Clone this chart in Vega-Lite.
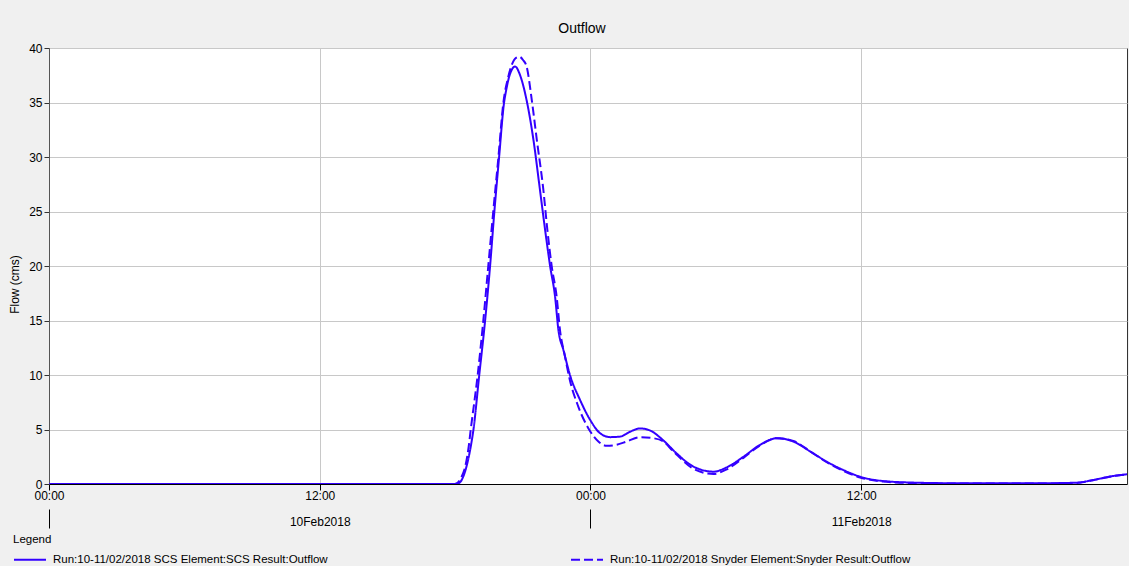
{
  "$schema": "https://vega.github.io/schema/vega-lite/v6.json",
  "width": 1078,
  "height": 436,
  "autosize": {"type": "none"},
  "padding": {"left": 49, "top": 48, "right": 2, "bottom": 82},
  "background": "#f0f0f0",
  "title": {"text": "Outflow", "fontSize": 14, "fontWeight": "normal", "font": "Liberation Sans", "color": "#000000", "offset": 6, "dx": -6},
  "config": {"view": {"fill": "white", "stroke": "#333333", "strokeWidth": 1}, "font": "Liberation Sans"},
  "data": {"values": [
    {"series":"Run:10-11/02/2018 SCS Element:SCS Result:Outflow","hours":0,"flow":0},
    {"series":"Run:10-11/02/2018 SCS Element:SCS Result:Outflow","hours":6,"flow":0},
    {"series":"Run:10-11/02/2018 SCS Element:SCS Result:Outflow","hours":12,"flow":0},
    {"series":"Run:10-11/02/2018 SCS Element:SCS Result:Outflow","hours":17.9,"flow":0},
    {"series":"Run:10-11/02/2018 SCS Element:SCS Result:Outflow","hours":18.14,"flow":0.05},
    {"series":"Run:10-11/02/2018 SCS Element:SCS Result:Outflow","hours":18.36,"flow":0.67},
    {"series":"Run:10-11/02/2018 SCS Element:SCS Result:Outflow","hours":18.54,"flow":1.9},
    {"series":"Run:10-11/02/2018 SCS Element:SCS Result:Outflow","hours":18.69,"flow":3.4},
    {"series":"Run:10-11/02/2018 SCS Element:SCS Result:Outflow","hours":18.81,"flow":4.95},
    {"series":"Run:10-11/02/2018 SCS Element:SCS Result:Outflow","hours":19.07,"flow":10},
    {"series":"Run:10-11/02/2018 SCS Element:SCS Result:Outflow","hours":19.33,"flow":15},
    {"series":"Run:10-11/02/2018 SCS Element:SCS Result:Outflow","hours":19.55,"flow":20},
    {"series":"Run:10-11/02/2018 SCS Element:SCS Result:Outflow","hours":19.74,"flow":25},
    {"series":"Run:10-11/02/2018 SCS Element:SCS Result:Outflow","hours":19.95,"flow":30},
    {"series":"Run:10-11/02/2018 SCS Element:SCS Result:Outflow","hours":20.17,"flow":35},
    {"series":"Run:10-11/02/2018 SCS Element:SCS Result:Outflow","hours":20.26,"flow":36.1},
    {"series":"Run:10-11/02/2018 SCS Element:SCS Result:Outflow","hours":20.43,"flow":37.6},
    {"series":"Run:10-11/02/2018 SCS Element:SCS Result:Outflow","hours":20.66,"flow":38.3},
    {"series":"Run:10-11/02/2018 SCS Element:SCS Result:Outflow","hours":20.88,"flow":37.5},
    {"series":"Run:10-11/02/2018 SCS Element:SCS Result:Outflow","hours":21.17,"flow":35.2},
    {"series":"Run:10-11/02/2018 SCS Element:SCS Result:Outflow","hours":21.47,"flow":31.6},
    {"series":"Run:10-11/02/2018 SCS Element:SCS Result:Outflow","hours":21.76,"flow":27},
    {"series":"Run:10-11/02/2018 SCS Element:SCS Result:Outflow","hours":21.99,"flow":23.3},
    {"series":"Run:10-11/02/2018 SCS Element:SCS Result:Outflow","hours":22.21,"flow":20},
    {"series":"Run:10-11/02/2018 SCS Element:SCS Result:Outflow","hours":22.43,"flow":17.2},
    {"series":"Run:10-11/02/2018 SCS Element:SCS Result:Outflow","hours":22.58,"flow":14.1},
    {"series":"Run:10-11/02/2018 SCS Element:SCS Result:Outflow","hours":22.8,"flow":12.3},
    {"series":"Run:10-11/02/2018 SCS Element:SCS Result:Outflow","hours":23.09,"flow":10},
    {"series":"Run:10-11/02/2018 SCS Element:SCS Result:Outflow","hours":23.54,"flow":7.7},
    {"series":"Run:10-11/02/2018 SCS Element:SCS Result:Outflow","hours":23.98,"flow":5.9},
    {"series":"Run:10-11/02/2018 SCS Element:SCS Result:Outflow","hours":24.43,"flow":4.65},
    {"series":"Run:10-11/02/2018 SCS Element:SCS Result:Outflow","hours":24.87,"flow":4.3},
    {"series":"Run:10-11/02/2018 SCS Element:SCS Result:Outflow","hours":25.32,"flow":4.35},
    {"series":"Run:10-11/02/2018 SCS Element:SCS Result:Outflow","hours":25.76,"flow":4.8},
    {"series":"Run:10-11/02/2018 SCS Element:SCS Result:Outflow","hours":26.2,"flow":5.1},
    {"series":"Run:10-11/02/2018 SCS Element:SCS Result:Outflow","hours":26.65,"flow":4.9},
    {"series":"Run:10-11/02/2018 SCS Element:SCS Result:Outflow","hours":27.23,"flow":4.0},
    {"series":"Run:10-11/02/2018 SCS Element:SCS Result:Outflow","hours":27.82,"flow":2.8},
    {"series":"Run:10-11/02/2018 SCS Element:SCS Result:Outflow","hours":28.56,"flow":1.6},
    {"series":"Run:10-11/02/2018 SCS Element:SCS Result:Outflow","hours":29.45,"flow":1.13},
    {"series":"Run:10-11/02/2018 SCS Element:SCS Result:Outflow","hours":30.04,"flow":1.53},
    {"series":"Run:10-11/02/2018 SCS Element:SCS Result:Outflow","hours":30.78,"flow":2.5},
    {"series":"Run:10-11/02/2018 SCS Element:SCS Result:Outflow","hours":31.52,"flow":3.6},
    {"series":"Run:10-11/02/2018 SCS Element:SCS Result:Outflow","hours":32.26,"flow":4.2},
    {"series":"Run:10-11/02/2018 SCS Element:SCS Result:Outflow","hours":32.99,"flow":3.9},
    {"series":"Run:10-11/02/2018 SCS Element:SCS Result:Outflow","hours":33.73,"flow":3.0},
    {"series":"Run:10-11/02/2018 SCS Element:SCS Result:Outflow","hours":34.47,"flow":2.05},
    {"series":"Run:10-11/02/2018 SCS Element:SCS Result:Outflow","hours":35.21,"flow":1.28},
    {"series":"Run:10-11/02/2018 SCS Element:SCS Result:Outflow","hours":35.95,"flow":0.67},
    {"series":"Run:10-11/02/2018 SCS Element:SCS Result:Outflow","hours":36.98,"flow":0.27},
    {"series":"Run:10-11/02/2018 SCS Element:SCS Result:Outflow","hours":38.46,"flow":0.12},
    {"series":"Run:10-11/02/2018 SCS Element:SCS Result:Outflow","hours":40.68,"flow":0.06},
    {"series":"Run:10-11/02/2018 SCS Element:SCS Result:Outflow","hours":43.62,"flow":0.06},
    {"series":"Run:10-11/02/2018 SCS Element:SCS Result:Outflow","hours":45.55,"flow":0.12},
    {"series":"Run:10-11/02/2018 SCS Element:SCS Result:Outflow","hours":46.28,"flow":0.37},
    {"series":"Run:10-11/02/2018 SCS Element:SCS Result:Outflow","hours":47.16,"flow":0.73},
    {"series":"Run:10-11/02/2018 SCS Element:SCS Result:Outflow","hours":47.78,"flow":0.89},
    {"series":"Run:10-11/02/2018 Snyder Element:Snyder Result:Outflow","hours":0,"flow":0},
    {"series":"Run:10-11/02/2018 Snyder Element:Snyder Result:Outflow","hours":6,"flow":0},
    {"series":"Run:10-11/02/2018 Snyder Element:Snyder Result:Outflow","hours":12,"flow":0},
    {"series":"Run:10-11/02/2018 Snyder Element:Snyder Result:Outflow","hours":18.0,"flow":0},
    {"series":"Run:10-11/02/2018 Snyder Element:Snyder Result:Outflow","hours":18.29,"flow":0.67},
    {"series":"Run:10-11/02/2018 Snyder Element:Snyder Result:Outflow","hours":18.48,"flow":1.9},
    {"series":"Run:10-11/02/2018 Snyder Element:Snyder Result:Outflow","hours":18.6,"flow":3.4},
    {"series":"Run:10-11/02/2018 Snyder Element:Snyder Result:Outflow","hours":18.69,"flow":4.95},
    {"series":"Run:10-11/02/2018 Snyder Element:Snyder Result:Outflow","hours":19.0,"flow":10},
    {"series":"Run:10-11/02/2018 Snyder Element:Snyder Result:Outflow","hours":19.25,"flow":15},
    {"series":"Run:10-11/02/2018 Snyder Element:Snyder Result:Outflow","hours":19.47,"flow":20},
    {"series":"Run:10-11/02/2018 Snyder Element:Snyder Result:Outflow","hours":19.69,"flow":25},
    {"series":"Run:10-11/02/2018 Snyder Element:Snyder Result:Outflow","hours":19.92,"flow":30},
    {"series":"Run:10-11/02/2018 Snyder Element:Snyder Result:Outflow","hours":20.14,"flow":35},
    {"series":"Run:10-11/02/2018 Snyder Element:Snyder Result:Outflow","hours":20.35,"flow":37.3},
    {"series":"Run:10-11/02/2018 Snyder Element:Snyder Result:Outflow","hours":20.52,"flow":38.5},
    {"series":"Run:10-11/02/2018 Snyder Element:Snyder Result:Outflow","hours":20.7,"flow":39.1},
    {"series":"Run:10-11/02/2018 Snyder Element:Snyder Result:Outflow","hours":20.85,"flow":39.2},
    {"series":"Run:10-11/02/2018 Snyder Element:Snyder Result:Outflow","hours":21.01,"flow":38.9},
    {"series":"Run:10-11/02/2018 Snyder Element:Snyder Result:Outflow","hours":21.17,"flow":38.3},
    {"series":"Run:10-11/02/2018 Snyder Element:Snyder Result:Outflow","hours":21.4,"flow":35.2},
    {"series":"Run:10-11/02/2018 Snyder Element:Snyder Result:Outflow","hours":21.62,"flow":31.6},
    {"series":"Run:10-11/02/2018 Snyder Element:Snyder Result:Outflow","hours":21.91,"flow":27},
    {"series":"Run:10-11/02/2018 Snyder Element:Snyder Result:Outflow","hours":22.09,"flow":23.3},
    {"series":"Run:10-11/02/2018 Snyder Element:Snyder Result:Outflow","hours":22.28,"flow":20},
    {"series":"Run:10-11/02/2018 Snyder Element:Snyder Result:Outflow","hours":22.5,"flow":17.2},
    {"series":"Run:10-11/02/2018 Snyder Element:Snyder Result:Outflow","hours":22.65,"flow":14.1},
    {"series":"Run:10-11/02/2018 Snyder Element:Snyder Result:Outflow","hours":22.87,"flow":11.7},
    {"series":"Run:10-11/02/2018 Snyder Element:Snyder Result:Outflow","hours":23.09,"flow":9.5},
    {"series":"Run:10-11/02/2018 Snyder Element:Snyder Result:Outflow","hours":23.46,"flow":7.1},
    {"series":"Run:10-11/02/2018 Snyder Element:Snyder Result:Outflow","hours":23.91,"flow":5.1},
    {"series":"Run:10-11/02/2018 Snyder Element:Snyder Result:Outflow","hours":24.35,"flow":3.9},
    {"series":"Run:10-11/02/2018 Snyder Element:Snyder Result:Outflow","hours":24.72,"flow":3.5},
    {"series":"Run:10-11/02/2018 Snyder Element:Snyder Result:Outflow","hours":25.16,"flow":3.6},
    {"series":"Run:10-11/02/2018 Snyder Element:Snyder Result:Outflow","hours":25.61,"flow":3.9},
    {"series":"Run:10-11/02/2018 Snyder Element:Snyder Result:Outflow","hours":26.2,"flow":4.3},
    {"series":"Run:10-11/02/2018 Snyder Element:Snyder Result:Outflow","hours":26.79,"flow":4.2},
    {"series":"Run:10-11/02/2018 Snyder Element:Snyder Result:Outflow","hours":27.23,"flow":3.9},
    {"series":"Run:10-11/02/2018 Snyder Element:Snyder Result:Outflow","hours":27.67,"flow":3.0},
    {"series":"Run:10-11/02/2018 Snyder Element:Snyder Result:Outflow","hours":28.56,"flow":1.4},
    {"series":"Run:10-11/02/2018 Snyder Element:Snyder Result:Outflow","hours":29.45,"flow":0.92},
    {"series":"Run:10-11/02/2018 Snyder Element:Snyder Result:Outflow","hours":30.04,"flow":1.35},
    {"series":"Run:10-11/02/2018 Snyder Element:Snyder Result:Outflow","hours":30.78,"flow":2.4},
    {"series":"Run:10-11/02/2018 Snyder Element:Snyder Result:Outflow","hours":31.52,"flow":3.55},
    {"series":"Run:10-11/02/2018 Snyder Element:Snyder Result:Outflow","hours":32.26,"flow":4.2},
    {"series":"Run:10-11/02/2018 Snyder Element:Snyder Result:Outflow","hours":32.99,"flow":3.95},
    {"series":"Run:10-11/02/2018 Snyder Element:Snyder Result:Outflow","hours":33.73,"flow":3.0},
    {"series":"Run:10-11/02/2018 Snyder Element:Snyder Result:Outflow","hours":34.47,"flow":2.0},
    {"series":"Run:10-11/02/2018 Snyder Element:Snyder Result:Outflow","hours":35.21,"flow":1.2},
    {"series":"Run:10-11/02/2018 Snyder Element:Snyder Result:Outflow","hours":35.95,"flow":0.6},
    {"series":"Run:10-11/02/2018 Snyder Element:Snyder Result:Outflow","hours":36.98,"flow":0.22},
    {"series":"Run:10-11/02/2018 Snyder Element:Snyder Result:Outflow","hours":38.46,"flow":0.08},
    {"series":"Run:10-11/02/2018 Snyder Element:Snyder Result:Outflow","hours":40.68,"flow":0.04},
    {"series":"Run:10-11/02/2018 Snyder Element:Snyder Result:Outflow","hours":43.62,"flow":0.04},
    {"series":"Run:10-11/02/2018 Snyder Element:Snyder Result:Outflow","hours":45.55,"flow":0.1},
    {"series":"Run:10-11/02/2018 Snyder Element:Snyder Result:Outflow","hours":46.28,"flow":0.35},
    {"series":"Run:10-11/02/2018 Snyder Element:Snyder Result:Outflow","hours":47.16,"flow":0.72},
    {"series":"Run:10-11/02/2018 Snyder Element:Snyder Result:Outflow","hours":47.78,"flow":0.88}
  ]},
  "resolve": {"axis": {"x": "independent"}},
  "layer": [
    {
      "mark": {"type": "line", "strokeWidth": 2, "interpolate": "monotone", "clip": true},
      "encoding": {
        "x": {"field": "hours", "type": "quantitative",
          "scale": {"domain": [0, 47.78], "nice": false, "zero": false},
          "axis": {"orient": "bottom", "values": [0, 12, 24, 36], "title": null,
            "labelExpr": "datum.value == 12 ? ['12:00', '10Feb2018'] : datum.value == 36 ? ['12:00', '11Feb2018'] : '00:00'",
            "grid": true, "gridColor": "#c8c8c8", "domainColor": "#000000", "tickColor": "#000000", "tickSize": 6,
            "labelFontSize": 12, "labelColor": "#000000", "labelPadding": 0, "labelLineHeight": 26, "labelBaseline": "top", "labelFlush": false, "labelOverlap": false}},
        "y": {"field": "flow", "type": "quantitative",
          "scale": {"domain": [0, 40], "nice": false},
          "axis": {"values": [0, 5, 10, 15, 20, 25, 30, 35, 40], "title": "Flow (cms)", "titleFontSize": 12, "titleFontWeight": "normal", "titleColor": "#000000", "titlePadding": 7, "titleY": 236,
            "grid": true, "gridColor": "#c8c8c8", "domainColor": "#555555", "tickColor": "#333333", "tickSize": 5,
            "labelFontSize": 12, "labelColor": "#000000", "labelPadding": 2, "labelFlush": false}},
        "color": {"field": "series", "type": "nominal", "scale": {"range": ["#3300ff", "#3300ff"]},
          "legend": {"orient": "none", "legendX": -36, "legendY": 486, "direction": "horizontal", "columns": 2,
            "title": "Legend", "titleFontSize": 11.5, "titleFontWeight": "normal", "titleColor": "#000000", "titleAnchor": "start", "titlePadding": -3,
            "labelFontSize": 11.5, "labelColor": "#000000", "labelLimit": 500, "labelOffset": 6,
            "symbolType": "stroke", "symbolSize": 1024, "symbolStrokeWidth": 2, "columnPadding": 239}},
        "strokeDash": {"field": "series", "type": "nominal", "scale": {"range": [[1, 0], [9, 4]]},
          "legend": {"orient": "none", "legendX": -36, "legendY": 486, "direction": "horizontal", "columns": 2,
            "title": "Legend", "titleFontSize": 11.5, "titleFontWeight": "normal", "titleColor": "#000000", "titleAnchor": "start", "titlePadding": -3,
            "labelFontSize": 11.5, "labelColor": "#000000", "labelLimit": 500, "labelOffset": 6,
            "symbolType": "stroke", "symbolSize": 1024, "symbolStrokeWidth": 2, "columnPadding": 239}}
      }
    },
    {
      "mark": {"type": "rule", "opacity": 0},
      "encoding": {
        "x": {"field": "hours", "type": "quantitative",
          "axis": {"orient": "bottom", "values": [0, 24], "offset": 25, "tickSize": 19, "domain": false, "labels": false, "grid": false, "tickColor": "#000000", "title": null}}
      }
    }
  ]
}
